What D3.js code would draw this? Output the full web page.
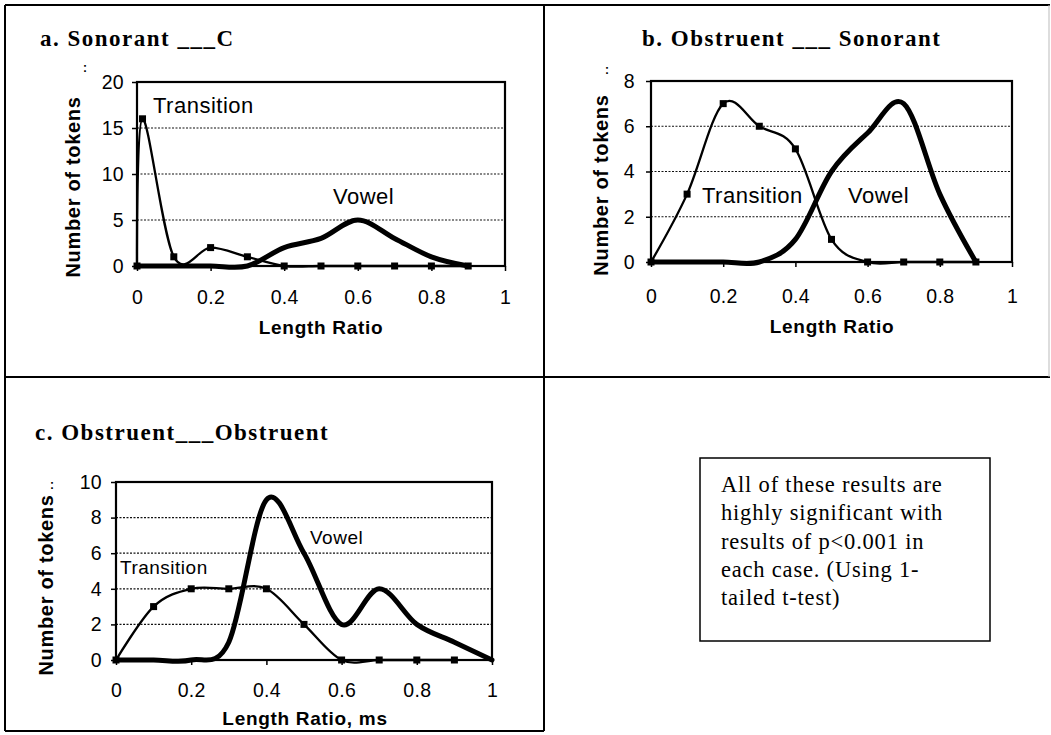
<!DOCTYPE html>
<html><head><meta charset="utf-8">
<script src="https://cdn.jsdelivr.net/npm/d3@7"></script>
<style>
body{margin:0;background:#fff;}
svg{display:block;}
</style></head><body>
<svg id="chart" width="1051" height="735"></svg>
<script>
// ---------- data ----------
const xTickValues = [0, 0.2, 0.4, 0.6, 0.8, 1];

const aTransitionX = [0, 0.015, 0.1, 0.2, 0.3, 0.4, 0.5, 0.6, 0.7, 0.8, 0.9];
const aTransitionY = [0, 16, 1, 2, 1, 0, 0, 0, 0, 0, 0];
const aVowelX = [0, 0.1, 0.2, 0.3, 0.4, 0.5, 0.6, 0.7, 0.8, 0.9];
const aVowelY = [0, 0, 0, 0, 2, 3, 5, 3, 1, 0];
const aYTicks = [0, 5, 10, 15, 20];

const bTransitionX = [0, 0.1, 0.2, 0.3, 0.4, 0.5, 0.6, 0.7, 0.8, 0.9];
const bTransitionY = [0, 3, 7, 6, 5, 1, 0, 0, 0, 0];
const bVowelX = [0, 0.1, 0.2, 0.3, 0.4, 0.5, 0.6, 0.7, 0.8, 0.9];
const bVowelY = [0, 0, 0, 0, 1, 4, 5.7, 7, 3, 0];
const bYTicks = [0, 2, 4, 6, 8];

const cTransitionX = [0, 0.1, 0.2, 0.3, 0.4, 0.5, 0.6, 0.7, 0.8, 0.9];
const cTransitionY = [0, 3, 4, 4, 4, 2, 0, 0, 0, 0];
const cVowelX = [0, 0.1, 0.2, 0.3, 0.4, 0.5, 0.6, 0.7, 0.8, 0.9, 1];
const cVowelY = [0, 0, 0, 1, 9, 6, 2, 4, 2, 1, 0];
const cYTicks = [0, 2, 4, 6, 8, 10];

const panelTitles = ["a. Sonorant ___C", "b. Obstruent ___ Sonorant", "c. Obstruent___Obstruent"];
const yAxisTitle = "Number of tokens";
const xAxisTitles = ["Length Ratio", "Length Ratio", "Length Ratio, ms"];
const seriesNames = ["Transition", "Vowel"];
const noteLines = [
  "All of these results are",
  "highly significant with",
  "results of p<0.001 in",
  "each case. (Using 1-",
  "tailed t-test)"
];

// ---------- layout ----------
const svg = d3.select("#chart");
const SANS = "'Liberation Sans', Arial, sans-serif";
const SERIF = "'Liberation Serif', 'Times New Roman', serif";

function txt(g, x, y, s, o) {
  const t = g.append("text").attr("x", x).attr("y", y).text(s)
    .attr("font-family", o.family || SANS)
    .attr("font-size", o.size)
    .attr("font-weight", o.weight || "normal")
    .attr("letter-spacing", o.ls || 0)
    .attr("text-anchor", o.anchor || "start")
    .attr("fill", "#000");
  if (o.rotate) t.attr("transform", `rotate(${o.rotate},${x},${y})`);
  return t;
}

// outer table lines
const frame = svg.append("g").attr("stroke", "#000").attr("stroke-width", 2);
[[5,5,1050,5],[5,5,5,731],[544,5,544,731],[5,377,1050,377],[5,731,544,731]].forEach(l =>
  frame.append("line").attr("x1", l[0]).attr("y1", l[1]).attr("x2", l[2]).attr("y2", l[3]));
svg.append("line").attr("x1",1049).attr("y1",5).attr("x2",1049).attr("y2",377)
  .attr("stroke","#bbb").attr("stroke-width",1);

const panels = [
  { x0:137, x1:505, y0:266, y1:82, yTicks:aYTicks,
    tX:aTransitionX, tY:aTransitionY, vX:aVowelX, vY:aVowelY,
    title:panelTitles[0], titlePos:[40,46],
    yTitlePos:[80,187], xTitle:xAxisTitles[0], xTitlePos:[321,334], xTickY:304, yTickPad:13,
    tLabel:[153,113], vLabel:[333,204], labelSize:22, colon:[83,72] },
  { x0:651, x1:1012, y0:262, y1:81, yTicks:bYTicks,
    tX:bTransitionX, tY:bTransitionY, vX:bVowelX, vY:bVowelY,
    title:panelTitles[1], titlePos:[642,46],
    yTitlePos:[608,185], xTitle:xAxisTitles[1], xTitlePos:[832,333], xTickY:303, yTickPad:16,
    tLabel:[702,203], vLabel:[848,203], labelSize:22, colon:[605,74] },
  { x0:116, x1:492, y0:660, y1:482, yTicks:cYTicks,
    tX:cTransitionX, tY:cTransitionY, vX:cVowelX, vY:cVowelY,
    title:panelTitles[2], titlePos:[35,440],
    yTitlePos:[53,585], xTitle:xAxisTitles[2], xTitlePos:[305,725], xTickY:697, yTickPad:14,
    tLabel:[120,574], vLabel:[310,544], labelSize:19, colon:[50,489] }
];

panels.forEach(p => {
  const g = svg.append("g");
  const x = d3.scaleLinear().domain([0, 1]).range([p.x0, p.x1]);
  const yMax = p.yTicks[p.yTicks.length - 1];
  const y = d3.scaleLinear().domain([0, yMax]).range([p.y0, p.y1]);

  // gridlines
  g.append("g").selectAll("line").data(p.yTicks.slice(1, -1)).join("line")
    .attr("x1", p.x0).attr("x2", p.x1).attr("y1", d => y(d)).attr("y2", d => y(d))
    .attr("stroke", "#111").attr("stroke-width", 1.2).attr("stroke-dasharray", "2,1.5");

  // axes
  const ya = g.append("g").attr("transform", `translate(${p.x0},0)`)
    .call(d3.axisLeft(y).tickValues(p.yTicks).tickSize(5).tickPadding(p.yTickPad - 5).tickFormat(d3.format("d")));
  const xa = g.append("g").attr("transform", `translate(0,${p.y0})`)
    .call(d3.axisBottom(x).tickValues(xTickValues).tickSize(5)
      .tickFormat(d => d === 0 ? "0" : d === 1 ? "1" : d3.format(".1f")(d)));
  [ya, xa].forEach(a => {
    a.select(".domain").remove();
    a.selectAll(".tick line").attr("stroke", "#000").attr("stroke-width", 1.5);
    a.selectAll(".tick text").attr("font-family", SANS).attr("font-size", 19.5)
      .attr("letter-spacing", 0.3).attr("fill", "#000");
  });
  xa.selectAll(".tick text").attr("dy", null).attr("y", p.xTickY - p.y0);

  // plot box
  g.append("rect").attr("x", p.x0).attr("y", p.y1).attr("width", p.x1 - p.x0).attr("height", p.y0 - p.y1)
    .attr("fill", "none").attr("stroke", "#000").attr("stroke-width", 2.2);

  const line = d3.line().x(d => x(d[0])).y(d => y(d[1])).curve(d3.curveCardinal.tension(0));
  const tData = p.tX.map((v, i) => [v, p.tY[i]]);
  const vData = p.vX.map((v, i) => [v, p.vY[i]]);

  g.append("path").datum(vData).attr("d", line).attr("fill", "none")
    .attr("stroke", "#000").attr("stroke-width", 5).attr("stroke-linejoin", "round").attr("stroke-linecap", "round");
  g.append("path").datum(tData).attr("d", line).attr("fill", "none")
    .attr("stroke", "#000").attr("stroke-width", 2.3).attr("stroke-linejoin", "round");
  g.append("g").selectAll("rect").data(tData).join("rect")
    .attr("x", d => x(d[0]) - 3.5).attr("y", d => y(d[1]) - 3.5).attr("width", 7).attr("height", 7).attr("fill", "#000");

  // texts
  txt(g, p.titlePos[0], p.titlePos[1], p.title, { family: SERIF, size: 23, weight: "bold", ls: 1.5 });
  txt(g, p.yTitlePos[0], p.yTitlePos[1], yAxisTitle, { size: 20, weight: "bold", ls: 0.7, anchor: "middle", rotate: -90 });
  txt(g, p.xTitlePos[0], p.xTitlePos[1], p.xTitle, { size: 19, weight: "bold", ls: 0.7, anchor: "middle" });
  txt(g, p.tLabel[0], p.tLabel[1], seriesNames[0], { size: p.labelSize, ls: 0.5 });
  txt(g, p.vLabel[0], p.vLabel[1], seriesNames[1], { size: p.labelSize, ls: 0.5 });
  txt(g, p.colon[0], p.colon[1], ":", { size: 12, weight: "bold" });
});

// note box
const note = svg.append("g");
note.append("rect").attr("x", 700).attr("y", 458).attr("width", 290).attr("height", 183)
  .attr("fill", "none").attr("stroke", "#000").attr("stroke-width", 1.5);
noteLines.forEach((s, i) => txt(note, 721, 492 + i * 28.3, s, { family: SERIF, size: 22.5, ls: 0.8 }));
</script>
</body></html>
